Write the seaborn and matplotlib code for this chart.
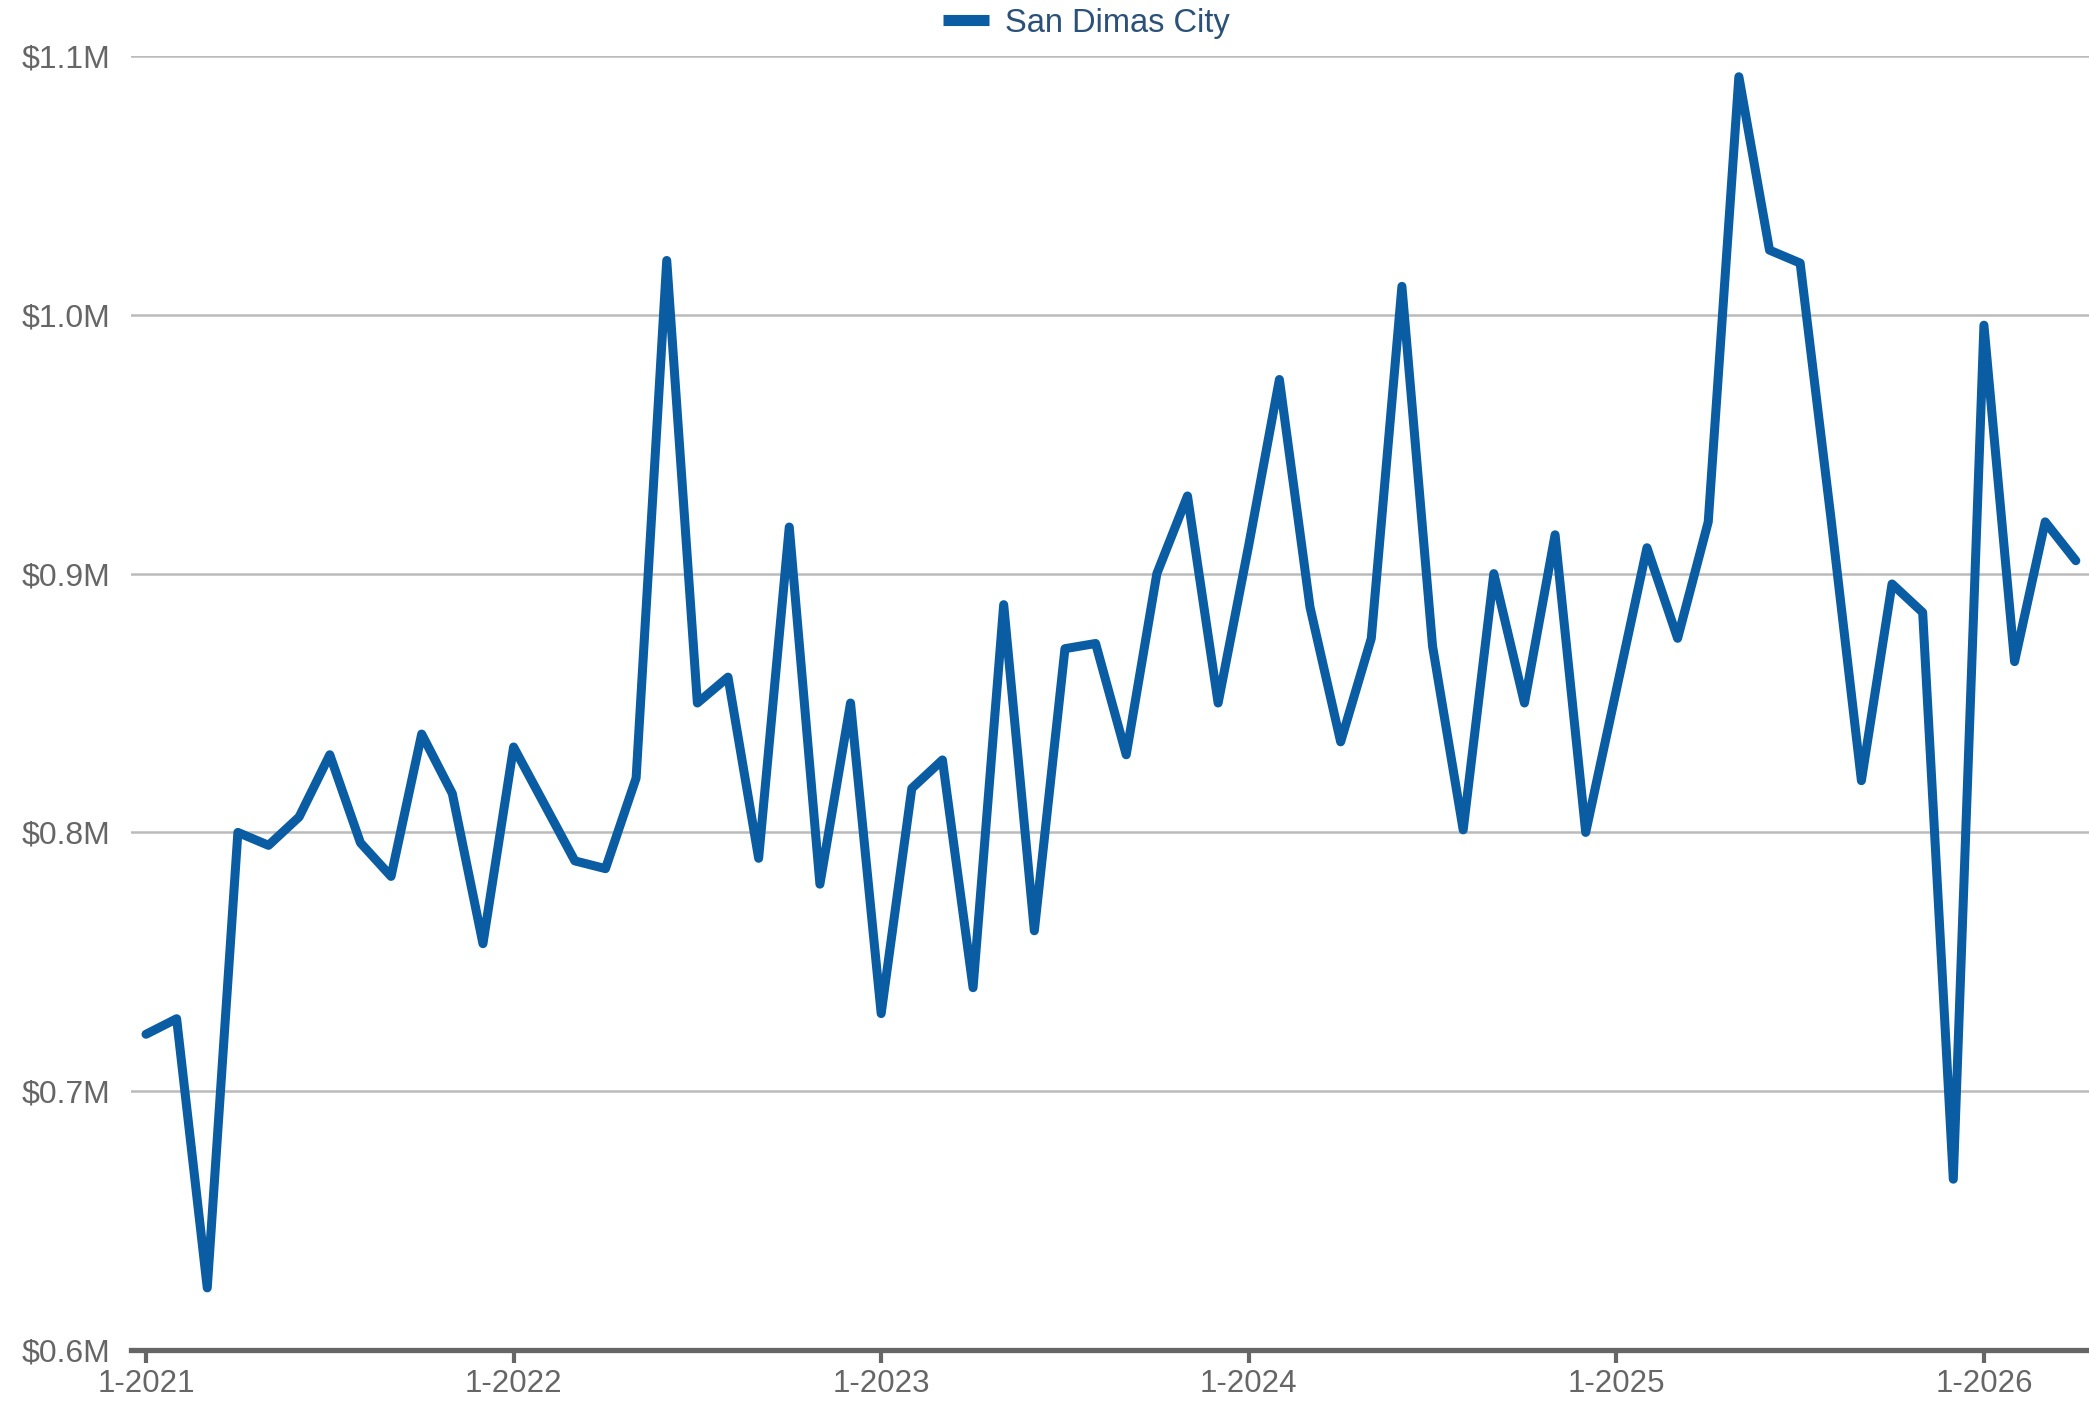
import pandas as pd
import seaborn as sns
import matplotlib.pyplot as plt

# monthly median price, Jan 2021 .. Apr 2026 (in $M)
months = [f"{m}-{y}" for y in range(2021, 2027) for m in range(1, 13)][:64]
prices = [
    0.722, 0.728, 0.624, 0.800, 0.795, 0.806, 0.830, 0.796, 0.783, 0.838, 0.815, 0.757,
    0.833, 0.811, 0.789, 0.786, 0.821, 1.021, 0.850, 0.860, 0.790, 0.918, 0.780, 0.850,
    0.730, 0.817, 0.828, 0.740, 0.888, 0.762, 0.871, 0.873, 0.830, 0.900, 0.930, 0.850,
    0.911, 0.975, 0.887, 0.835, 0.875, 1.011, 0.872, 0.801, 0.900, 0.850, 0.915, 0.800,
    0.855, 0.910, 0.875, 0.920, 1.092, 1.025, 1.020, 0.922, 0.820, 0.896, 0.885, 0.666,
    0.996, 0.866, 0.920, 0.905,
]
series_name = "San Dimas City"
yticks = [0.6, 0.7, 0.8, 0.9, 1.0, 1.1]
ytick_labels = ["$0.6M", "$0.7M", "$0.8M", "$0.9M", "$1.0M", "$1.1M"]

line_color = "#0a5ca3"
text_gray = "#666666"

df = pd.DataFrame({"month": months, "price": prices, "series": series_name})
df["pos"] = range(len(df))

sns.set_style("white")
plt.rcParams["font.family"] = ["Liberation Sans", "DejaVu Sans"]

fig = plt.figure(figsize=(20.89, 14.08), dpi=100)
ax = fig.add_axes([0.0627, 0.0412, 0.9373, 0.919])

sns.lineplot(data=df, x="pos", y="price", hue="series", palette=[line_color],
             linewidth=6.5, ax=ax, legend=True)
for ln in ax.get_lines():
    ln.set_solid_joinstyle("round")
    ln.set_solid_capstyle("round")

ax.set_xlim(-0.49, 63.43)
ax.set_ylim(0.6, 1.1)
ax.set_yticks(yticks)
ax.set_yticklabels(ytick_labels)
tick_pos = [i for i, m in enumerate(months) if m.startswith("1-")]
ax.set_xticks(tick_pos)
ax.set_xticklabels([months[i] for i in tick_pos])

ax.grid(axis="y", color="#bbbbbb", linewidth=1.8)
ax.set_axisbelow(True)
for s in ["top", "right", "left"]:
    ax.spines[s].set_visible(False)
ax.spines["bottom"].set_color(text_gray)
ax.spines["bottom"].set_linewidth(3.8)
ax.spines["bottom"].set_zorder(3)

ax.tick_params(axis="x", length=9, width=3, color=text_gray, labelsize=22.5,
               labelcolor=text_gray, pad=5, direction="out", bottom=True)
ax.tick_params(axis="y", length=0, labelsize=23, labelcolor=text_gray, pad=15)
ax.set_xlabel("")
ax.set_ylabel("")

leg = ax.legend(loc="center", bbox_to_anchor=(0.52, 0.9835), bbox_transform=fig.transFigure,
                frameon=False, fontsize=23.5, handlelength=1.4, handletextpad=0.5)
for h in leg.get_lines():
    h.set_linewidth(8)
    h.set_solid_capstyle("butt")
for t in leg.get_texts():
    t.set_color("#2b5178")

fig.savefig("out.png", dpi=100)
